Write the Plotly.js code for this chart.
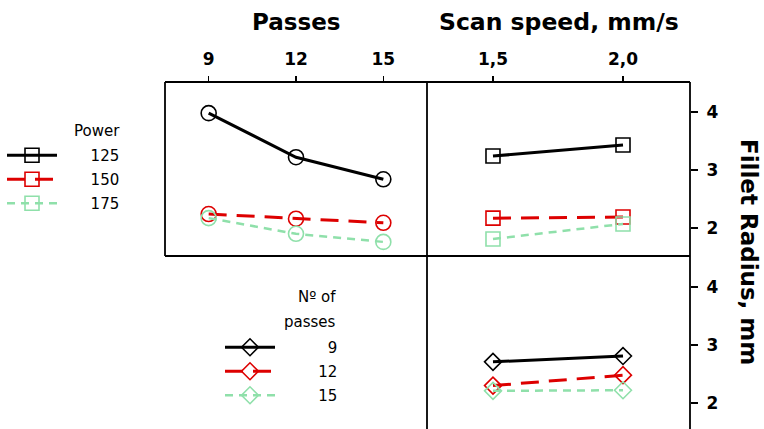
<!DOCTYPE html>
<html>
<head>
<meta charset="utf-8">
<script src="https://cdn.plot.ly/plotly-3.0.1.min.js"></script>
<style>html,body{margin:0;padding:0;background:#fff;}#chart{width:764px;height:429px;}</style>
</head>
<body>
<div id="chart"></div>
<script>
// ---- data ----
var passes = [9, 12, 15];
var passesTickText = ['9', '12', '15'];
var speeds = [1.5, 2.0];
var speedTickText = ['1,5', '2,0'];
var yTicks = [2, 3, 4];
var powerLevels = ['125', '150', '175'];
var passLevels = ['9', '12', '15'];

// Fillet radius (mm) by Passes, for each Power level
var radiusPasses_P125 = [3.98, 3.22, 2.84];
var radiusPasses_P150 = [2.24, 2.16, 2.09];
var radiusPasses_P175 = [2.17, 1.90, 1.76];
// Fillet radius by Scan speed, for each Power level
var radiusSpeed_P125 = [3.24, 3.43];
var radiusSpeed_P150 = [2.17, 2.19];
var radiusSpeed_P175 = [1.81, 2.07];
// Fillet radius by Scan speed, for each number of passes
var radiusSpeed_N9 = [2.71, 2.81];
var radiusSpeed_N12 = [2.30, 2.48];
var radiusSpeed_N15 = [2.21, 2.22];

// ---- styling ----
var FONT = 'DejaVu Sans';
var styles = [
  {color: '#000000', dash: 'solid', width: 3},
  {color: '#dd0000', dash: '18px,10px', width: 3},
  {color: '#8fe0aa', dash: '8px,6px', width: 2.5}
];
function pad(n) { var s = ''; for (var k = 0; k < n; k++) s += '\u00a0'; return s; }

var traces = [];
var pp = [radiusPasses_P125, radiusPasses_P150, radiusPasses_P175];
var ps = [radiusSpeed_P125, radiusSpeed_P150, radiusSpeed_P175];
var ns = [radiusSpeed_N9, radiusSpeed_N12, radiusSpeed_N15];
var powerPad = [6, 6, 6];
var passPad = [10, 8, 8];

for (var i = 0; i < 3; i++) {
  var s = styles[i];
  traces.push({
    x: passes, y: pp[i], xaxis: 'x', yaxis: 'y', type: 'scatter', mode: 'lines+markers',
    line: {color: s.color, dash: s.dash, width: s.width},
    marker: {symbol: 'circle-open', size: 15, color: s.color, line: {width: 1.6, color: s.color}},
    showlegend: false, hoverinfo: 'skip'
  });
  traces.push({
    x: speeds, y: ps[i], xaxis: 'x2', yaxis: 'y2', type: 'scatter', mode: 'lines+markers',
    name: pad(powerPad[i]) + powerLevels[i], legend: 'legend', legendgroup: 'p' + i,
    line: {color: s.color, dash: s.dash, width: s.width},
    marker: {symbol: 'square-open', size: 14, color: s.color, line: {width: 1.6, color: s.color}},
    showlegend: true, hoverinfo: 'skip'
  });
  traces.push({
    x: speeds, y: ns[i], xaxis: 'x3', yaxis: 'y3', type: 'scatter', mode: 'lines+markers',
    name: pad(passPad[i]) + passLevels[i], legend: 'legend2', legendgroup: 'n' + i,
    line: {color: s.color, dash: s.dash, width: s.width},
    marker: {symbol: 'diamond-open', size: 13, color: s.color, line: {width: 1.6, color: s.color}},
    showlegend: true, hoverinfo: 'skip'
  });
}

var W = 764, H = 429;
var xL = 165, xM = 427, xR = 690, yT = 82, yM = 256;
function px(v) { return v / W; }
function py(v) { return 1 - v / H; }

var tickFont = {family: FONT, size: 17, weight: 'bold', color: '#000'};
var hiddenAxis = {showgrid: false, zeroline: false, showticklabels: false, ticks: '', showline: false};
var legFont = {family: FONT, size: 15, color: '#000'};

var layout = {
  width: W, height: H,
  margin: {l: 0, r: 0, t: 0, b: 0},
  paper_bgcolor: '#fff', plot_bgcolor: 'rgba(0,0,0,0)',
  font: {family: FONT, color: '#000'},
  xaxis: {domain: [px(xL), px(xM)], range: [7.5, 16.5], anchor: 'y', side: 'top',
          tickvals: passes, ticktext: passesTickText, ticks: 'outside', ticklen: 5, tickwidth: 1.5,
          tickcolor: '#000', tickfont: tickFont, ticklabelstandoff: 4,
          showgrid: false, zeroline: false, showline: false},
  yaxis: Object.assign({domain: [py(yM), py(yT)], range: [1.517, 4.517], anchor: 'x'}, hiddenAxis),
  xaxis2: {domain: [px(xM), px(xR)], range: [1.2462, 2.2577], anchor: 'y2', side: 'top',
           tickvals: speeds, ticktext: speedTickText, ticks: 'outside', ticklen: 5, tickwidth: 1.5,
           tickcolor: '#000', tickfont: tickFont, ticklabelstandoff: 4,
           showgrid: false, zeroline: false, showline: false},
  yaxis2: {domain: [py(yM), py(yT)], range: [1.517, 4.517], anchor: 'x2', side: 'right',
           tickvals: yTicks, ticks: 'outside', ticklen: 7, tickwidth: 1.5, tickcolor: '#000',
           tickfont: tickFont, ticklabelstandoff: 5, showgrid: false, zeroline: false, showline: false},
  xaxis3: Object.assign({domain: [px(xM), px(xR)], range: [1.2462, 2.2577], anchor: 'y3'}, hiddenAxis),
  yaxis3: {domain: [0, py(yM)], range: [1.552, 4.534], anchor: 'x3', side: 'right',
           tickvals: yTicks, ticks: 'outside', ticklen: 7, tickwidth: 1.5, tickcolor: '#000',
           tickfont: tickFont, ticklabelstandoff: 5, showgrid: false, zeroline: false, showline: false},
  shapes: [
    {type: 'line', xref: 'paper', yref: 'paper', x0: px(xL), x1: px(xR), y0: py(yT), y1: py(yT), line: {color: '#000', width: 1.8}},
    {type: 'line', xref: 'paper', yref: 'paper', x0: px(xL), x1: px(xR), y0: py(yM), y1: py(yM), line: {color: '#000', width: 1.8}},
    {type: 'line', xref: 'paper', yref: 'paper', x0: px(xL), x1: px(xL), y0: py(yT), y1: py(yM), line: {color: '#000', width: 1.8}},
    {type: 'line', xref: 'paper', yref: 'paper', x0: px(xM), x1: px(xM), y0: py(yT), y1: 0, line: {color: '#000', width: 1.8}},
    {type: 'line', xref: 'paper', yref: 'paper', x0: px(xR), x1: px(xR), y0: py(yT), y1: 0, line: {color: '#000', width: 1.8}}
  ],
  annotations: [
    {text: 'Passes', xref: 'paper', yref: 'paper', x: px((xL + xM) / 2), y: py(22), xanchor: 'center', yanchor: 'middle',
     showarrow: false, font: {family: FONT, size: 23, weight: 'bold'}},
    {text: 'Scan speed, mm/s', xref: 'paper', yref: 'paper', x: px((xM + xR) / 2), y: py(22), xanchor: 'center', yanchor: 'middle',
     showarrow: false, font: {family: FONT, size: 23.5, weight: 'bold'}},
    {text: 'Fillet Radius, mm', xref: 'paper', yref: 'paper', x: px(749), y: py(252), xanchor: 'center', yanchor: 'middle',
     textangle: 90, showarrow: false, borderpad: 0, font: {family: FONT, size: 23, weight: 'bold'}},
    {text: 'Power', xref: 'paper', yref: 'paper', x: px(122), y: py(131), xanchor: 'right', yanchor: 'middle',
     showarrow: false, font: legFont},
    {text: 'N\u00ba of', xref: 'paper', yref: 'paper', x: px(338), y: py(297), xanchor: 'right', yanchor: 'middle',
     showarrow: false, font: legFont},
    {text: 'passes', xref: 'paper', yref: 'paper', x: px(338), y: py(322), xanchor: 'right', yanchor: 'middle',
     showarrow: false, font: legFont}
  ],
  legend: {x: px(2), y: py(139), xanchor: 'left', yanchor: 'top', bgcolor: 'rgba(0,0,0,0)',
           font: legFont, traceorder: 'grouped', tracegroupgap: 1.5, itemwidth: 50},
  legend2: {x: px(220), y: py(331), xanchor: 'left', yanchor: 'top', bgcolor: 'rgba(0,0,0,0)',
            font: legFont, traceorder: 'grouped', tracegroupgap: 1.5, itemwidth: 50}
};

Plotly.newPlot('chart', traces, layout, {staticPlot: true, displayModeBar: false});
</script>
</body>
</html>
